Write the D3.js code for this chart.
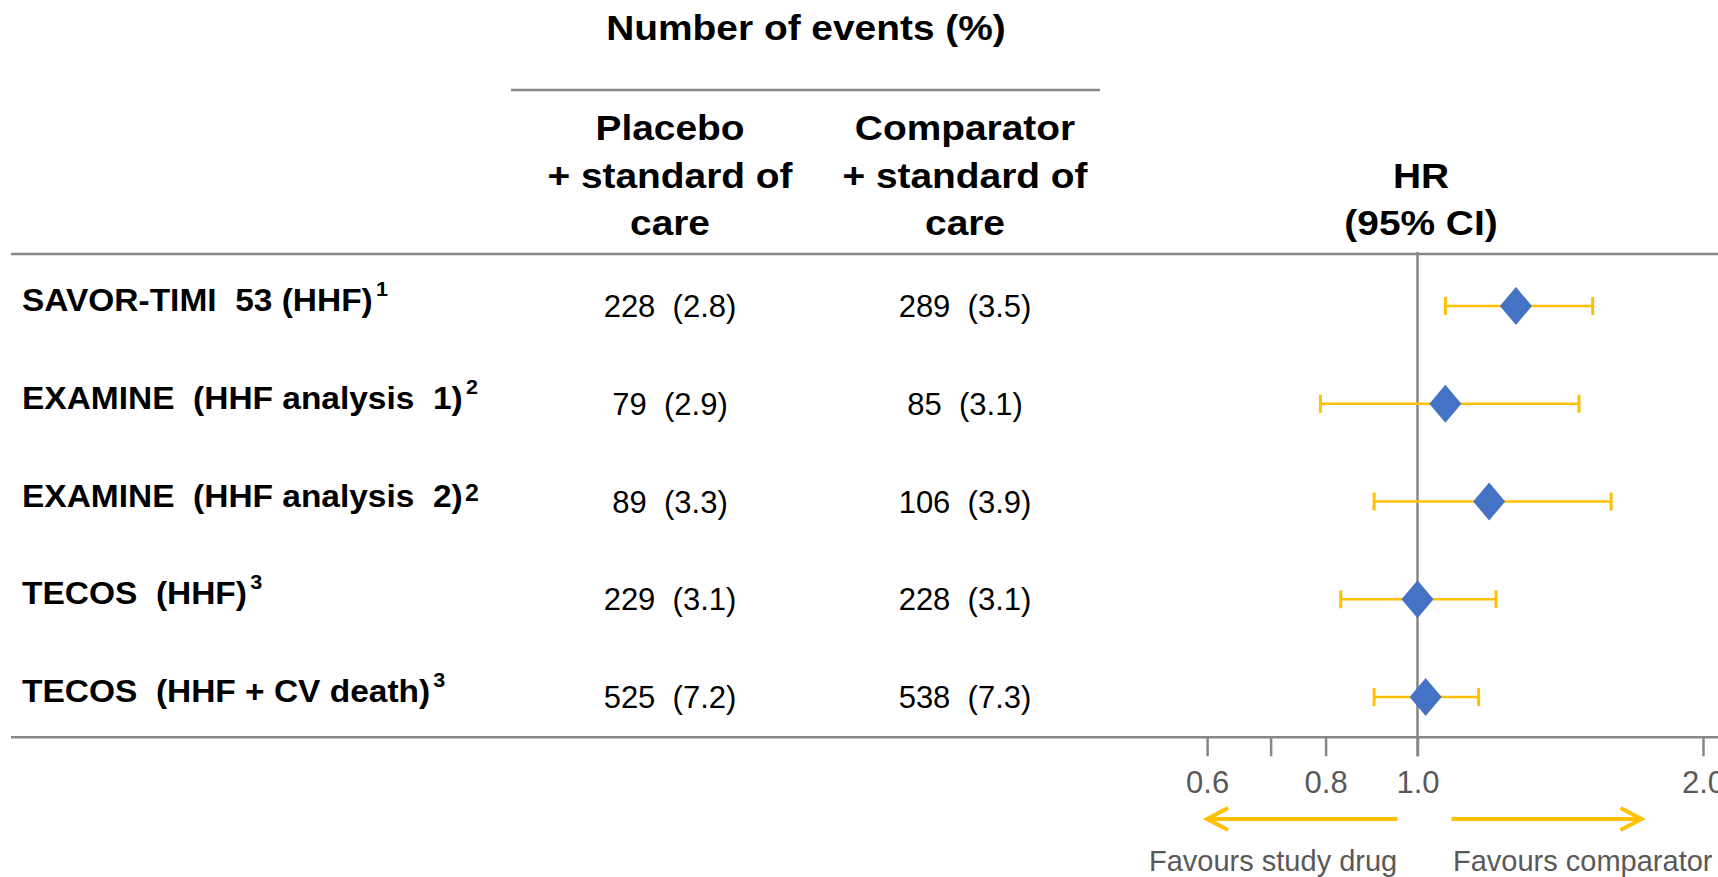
<!DOCTYPE html>
<html>
<head>
<meta charset="utf-8">
<script src="https://cdn.jsdelivr.net/npm/d3@7"></script>
<style>
  html, body { margin: 0; padding: 0; background: #ffffff; overflow: hidden; }
  svg text { white-space: pre; font-family: "Liberation Sans", Arial, sans-serif; }
</style>
</head>
<body>
<svg id="chart" width="1718" height="877"></svg>
<script>
// Trials and outcomes shown in the table
const studies = [
  "SAVOR-TIMI  53 (HHF)",
  "EXAMINE  (HHF analysis  1)",
  "EXAMINE  (HHF analysis  2)",
  "TECOS  (HHF)",
  "TECOS  (HHF + CV death)"
];
const refMarks = ["1", "2", "2", "3", "3"];

// Number of events (%) per arm
const placeboN = [228, 79, 89, 229, 525];
const placeboPct = [2.8, 2.9, 3.3, 3.1, 7.2];
const comparatorN = [289, 85, 106, 228, 538];
const comparatorPct = [3.5, 3.1, 3.9, 3.1, 7.3];

// Hazard ratios with 95% confidence intervals
const hr = [1.27, 1.07, 1.19, 1.00, 1.02];
const ciLow = [1.07, 0.79, 0.90, 0.83, 0.90];
const ciHigh = [1.53, 1.48, 1.60, 1.21, 1.16];

// HR axis ticks
const tickValues = [0.6, 0.7, 0.8, 1.0, 2.0];
const tickLabels = ["0.6", "", "0.8", "1.0", "2.0"];

const svg = d3.select("#chart");
const W = 1718;
const lineGrey = "#878787";
const textGrey = "#595959";
const gold = "#FFC000";
const blue = "#4472C4";

const tableTop = 254;
const axisY = 737.3;

const x = d3.scaleLog().domain([1, 2]).range([1417.5, 1703]);
const y = d3.scalePoint().domain(d3.range(studies.length)).range([306, 697]);

const colPlacebo = 670;
const colComparator = 965;

// ---- Column headings ----
const head = svg.append("g");
head.append("text")
  .attr("transform", `translate(806,40) scale(1.08,1)`)
  .attr("text-anchor", "middle")
  .attr("font-weight", "bold").attr("font-size", 36)
  .text("Number of events (%)");

head.append("line")
  .attr("x1", 511).attr("x2", 1100).attr("y1", 90).attr("y2", 90)
  .attr("stroke", lineGrey).attr("stroke-width", 2.5);

const headLines = [
  { cx: colPlacebo, lines: ["Placebo", "+ standard of", "care"] },
  { cx: colComparator, lines: ["Comparator", "+ standard of", "care"] },
  { cx: 1421, lines: ["", "HR", "(95% CI)"] }
];
const headBase = [140, 187.5, 235];
headLines.forEach(h => {
  h.lines.forEach((t, i) => {
    if (!t) return;
    head.append("text")
      .attr("transform", `translate(${h.cx},${headBase[i]}) scale(1.08,1)`)
      .attr("text-anchor", "middle")
      .attr("font-weight", "bold").attr("font-size", 36)
      .text(t);
  });
});

// ---- Table rules ----
svg.append("line")
  .attr("x1", 11).attr("x2", W).attr("y1", tableTop).attr("y2", tableTop)
  .attr("stroke", lineGrey).attr("stroke-width", 2.5);

// ---- Row labels ----
const labels = svg.append("g");
studies.forEach((s, i) => {
  const t = labels.append("text")
    .attr("transform", `translate(22,${y(i) + 5}) scale(1.08,1)`)
    .attr("font-weight", "bold").attr("font-size", 31)
    .text(s);
  const low = i === 2;
  t.append("tspan")
    .attr("font-size", low ? 23 : 20)
    .attr("dx", low ? 2 : 3)
    .attr("dy", low ? -6 : -15)
    .text(refMarks[i]);
});

// ---- Event counts ----
const fmt = (n, p) => `${n}  (${p.toFixed(1)})`;
const counts = svg.append("g").attr("font-size", 31).attr("text-anchor", "middle");
counts.selectAll("text.pl").data(placeboN).join("text")
  .attr("class", "pl")
  .attr("x", colPlacebo)
  .attr("y", (d, i) => y(i) + 11)
  .text((d, i) => fmt(d, placeboPct[i]));
counts.selectAll("text.cp").data(comparatorN).join("text")
  .attr("class", "cp")
  .attr("x", colComparator)
  .attr("y", (d, i) => y(i) + 11)
  .text((d, i) => fmt(d, comparatorPct[i]));

// ---- HR axis ----
const axis = d3.axisBottom(x)
  .tickValues(tickValues)
  .tickFormat((d, i) => tickLabels[i])
  .tickSize(19)
  .tickSizeOuter(0);
const axisG = svg.append("g").attr("transform", `translate(0,${axisY})`).call(axis);
axisG.select(".domain").remove();
axisG.selectAll(".tick line").attr("stroke", lineGrey).attr("stroke-width", 2.5);
axisG.selectAll(".tick text")
  .attr("y", 56).attr("dy", 0)
  .attr("fill", textGrey)
  .attr("font-size", 31)
  .attr("font-family", "Liberation Sans, Arial, sans-serif");

svg.append("line")
  .attr("x1", 11).attr("x2", W).attr("y1", axisY).attr("y2", axisY)
  .attr("stroke", lineGrey).attr("stroke-width", 2.5);

// line of no effect
svg.append("line")
  .attr("x1", x(1)).attr("x2", x(1))
  .attr("y1", tableTop - 2).attr("y2", axisY + 19)
  .attr("stroke", lineGrey).attr("stroke-width", 2.5);

// ---- Confidence intervals ----
const ci = svg.append("g").attr("stroke", gold).attr("stroke-width", 2.5);
hr.forEach((d, i) => {
  ci.append("line")
    .attr("x1", x(ciLow[i])).attr("x2", x(ciHigh[i]))
    .attr("y1", y(i)).attr("y2", y(i));
  [ciLow[i], ciHigh[i]].forEach(v => {
    ci.append("line")
      .attr("x1", x(v)).attr("x2", x(v))
      .attr("y1", y(i) - 9).attr("y2", y(i) + 9)
      .attr("stroke-width", 3);
  });
});

// ---- Point estimates ----
const hw = 16, hh = 19;
svg.append("g").selectAll("path").data(hr).join("path")
  .attr("d", (d, i) => {
    const cx = x(d), cy = y(i);
    return `M${cx},${cy - hh}L${cx + hw},${cy}L${cx},${cy + hh}L${cx - hw},${cy}Z`;
  })
  .attr("fill", blue);

// ---- Direction arrows ----
const arrowY = 819;
const arrows = svg.append("g")
  .attr("stroke", gold).attr("stroke-width", 4).attr("fill", "none")
  .attr("stroke-linecap", "butt");
const leftStart = x(1) - 20, leftTip = x(0.6);
const rightStart = x(1) + 34, rightTip = x(1) + 224;
arrows.append("line").attr("x1", leftStart).attr("x2", leftTip + 2).attr("y1", arrowY).attr("y2", arrowY);
arrows.append("path").attr("d", `M${leftTip + 21},${arrowY - 11}L${leftTip},${arrowY}L${leftTip + 21},${arrowY + 11}`);
arrows.append("line").attr("x1", rightStart).attr("x2", rightTip - 2).attr("y1", arrowY).attr("y2", arrowY);
arrows.append("path").attr("d", `M${rightTip - 21},${arrowY - 11}L${rightTip},${arrowY}L${rightTip - 21},${arrowY + 11}`);

svg.append("text")
  .attr("x", 1149).attr("y", 871)
  .attr("font-size", 29).attr("fill", textGrey)
  .text("Favours study drug");
svg.append("text")
  .attr("x", 1453).attr("y", 871)
  .attr("font-size", 29).attr("fill", textGrey)
  .text("Favours comparator");
</script>
</body>
</html>
